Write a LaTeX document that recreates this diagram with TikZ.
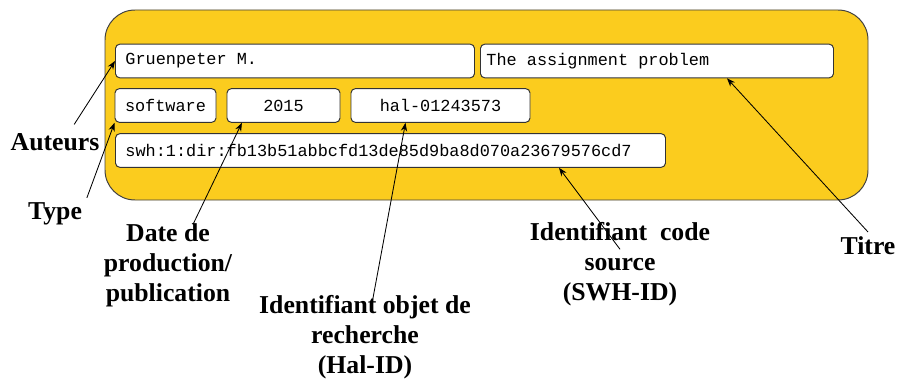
\documentclass[tikz,border=0pt]{standalone}
\usepackage{fontspec}
\setmainfont{Liberation Serif}
\newfontfamily\fieldfont{Liberation Mono}
\newcommand{\monogap}{\hphantom{0}}
\usetikzlibrary{arrows.meta,positioning}
\definecolor{recordyellow}{RGB}{251,204,30}

\begin{document}
\begin{tikzpicture}[
            field/.style={draw=black!80,line width=0.7pt,fill=white,rounded corners=3pt,
                minimum height=0.84cm,inner xsep=0.25cm,
                font=\fieldfont\fontsize{12}{14}\selectfont},
            fieldname/.style={font=\bfseries\fontsize{18.3}{21.3}\selectfont,align=center},
            pointer/.style={-{Stealth[length=6pt,width=4.5pt]},line width=0.6pt}
        ]
        \useasboundingbox (0,0) rectangle (22.45,-9.5);
        \draw[draw=black!75,line width=0.7pt,fill=recordyellow,rounded corners=0.75cm]
            (2.625,-0.25) rectangle (21.7,-5.0);

        % the record
        \node[field,anchor=west,text width=8.475cm] (author) at (2.875,-1.525) {Gruenpeter\monogap M.};
        \node[field,anchor=west,inner xsep=0.15cm,text width=8.525cm] (title) at (12,-1.525) {The\monogap assignment\monogap problem};
        \node[field,minimum width=2.525cm] (type) at (4.1375,-2.6375) {software};
        \node[field,minimum width=2.825cm] (year) at (7.0875,-2.6375) {2015};
        \node[field,minimum width=4.475cm] (hal) at (11.0125,-2.6375) {hal-01243573};
        \node[field,anchor=west,text width=13.25cm] (swh) at (2.875,-3.7625) {swh:1:dir:fb13b51abbcfd13de85d9ba8d070a23679576cd7};

        % what each field is
        \node[fieldname] (authorl) at (1.375,-3.55)  {Auteurs};
        \node[fieldname] (typel)   at (1.375,-5.35)  {Type};
        \node[fieldname] (yearl)   at (4.2,-6.625)   {Date de\\production/\\publication};
        \node[fieldname] (hall)    at (9.125,-8.425) {Identifiant objet de\\recherche\\(Hal-ID)};
        \node[fieldname] (swhl)    at (15.5,-6.6)    {Identifiant\ \ code\\source\\(SWH-ID)};
        \node[fieldname] (titlel)  at (21.7,-6.15)   {Titre};

        \draw[pointer] ([xshift=0.48cm,yshift=0.1cm]authorl.north) -- (author.west);
        \draw[pointer] (typel.north east) -- (type.south west);
        \draw[pointer] ([xshift=0.625cm,yshift=-0.15cm]yearl.north) -- ([xshift=-1.04cm]year.south);
        \draw[pointer] ([xshift=0.18cm,yshift=-0.3cm]hall.north) -- ([xshift=-0.875cm]hal.south);
        \draw[pointer] ([yshift=-0.8cm]swhl.north) -- ([xshift=-2.675cm]swh.south east);
        \draw[pointer] (titlel.north) -- ([xshift=1.75cm]title.south);
    \end{tikzpicture}
\end{document}
